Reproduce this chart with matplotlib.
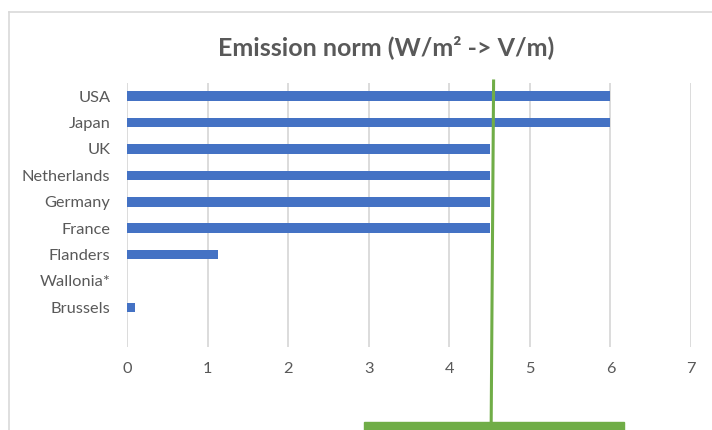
import matplotlib.pyplot as plt
from matplotlib.patches import Rectangle
from matplotlib.lines import Line2D
import matplotlib.transforms as mtransforms

# data
countries = ["USA", "Japan", "UK", "Netherlands", "Germany", "France",
             "Flanders", "Wallonia*", "Brussels"]
norm_values = [6.0, 6.0, 4.5, 4.5, 4.5, 4.5, 1.13, 0.0, 0.1]
x_ticks = [0, 1, 2, 3, 4, 5, 6, 7]

# green marker drawn over the chart
marker_x = [4.55, 4.52]       # top, bottom
marker_base = [2.94, 6.17]    # horizontal bar at the bottom

plt.rcParams['font.family'] = ['Lato', 'DejaVu Sans']

fig = plt.figure(figsize=(7.12, 4.30), dpi=100)
ax = fig.add_axes([127 / 712, 1 - 347 / 430, (691 - 127) / 712, (347 - 83) / 430])

ypos = list(range(len(countries)))
ax.barh(ypos, norm_values, height=0.37, color="#4472C4", zorder=3)

ax.set_xlim(0, 7)
ax.set_ylim(len(countries) + 0.5, -0.5)
ax.set_xticks(x_ticks)
ax.set_yticks(ypos)
ax.set_yticklabels(countries)
ax.grid(axis="x", color="#d9d9d9", linewidth=1.3, zorder=0)
ax.tick_params(axis="both", length=0, colors="#595959", labelsize=11.8)
ax.tick_params(axis="x", pad=11)
ax.tick_params(axis="y", pad=12)
for s in ax.spines.values():
    s.set_visible(False)

fig.text(386 / 712, 1 - 47 / 430, "Emission norm (W/m² -> V/m)", ha="center",
         va="center", fontsize=18, fontweight="bold", color="#595959")

# green threshold line and its base
trans = mtransforms.blended_transform_factory(ax.transData, fig.transFigure)
ax.add_line(Line2D(marker_x, [1 - 81 / 430, 1 - 422 / 430], transform=trans,
                   color="#70AD47", linewidth=2.2, clip_on=False, zorder=5))
ax.add_patch(Rectangle((marker_base[0], 0), marker_base[1] - marker_base[0], 8 / 430,
                       transform=trans, color="#70AD47", clip_on=False, zorder=5))

# chart area border (partly cut off)
fig.add_artist(Line2D([8.5 / 712, 1], [1 - 11.5 / 430, 1 - 11.5 / 430],
                      color="#d9d9d9", linewidth=1.2))
fig.add_artist(Line2D([8.5 / 712, 8.5 / 712], [0, 1 - 11.5 / 430],
                      color="#d9d9d9", linewidth=1.2))

fig.savefig("out.png", dpi=100)
